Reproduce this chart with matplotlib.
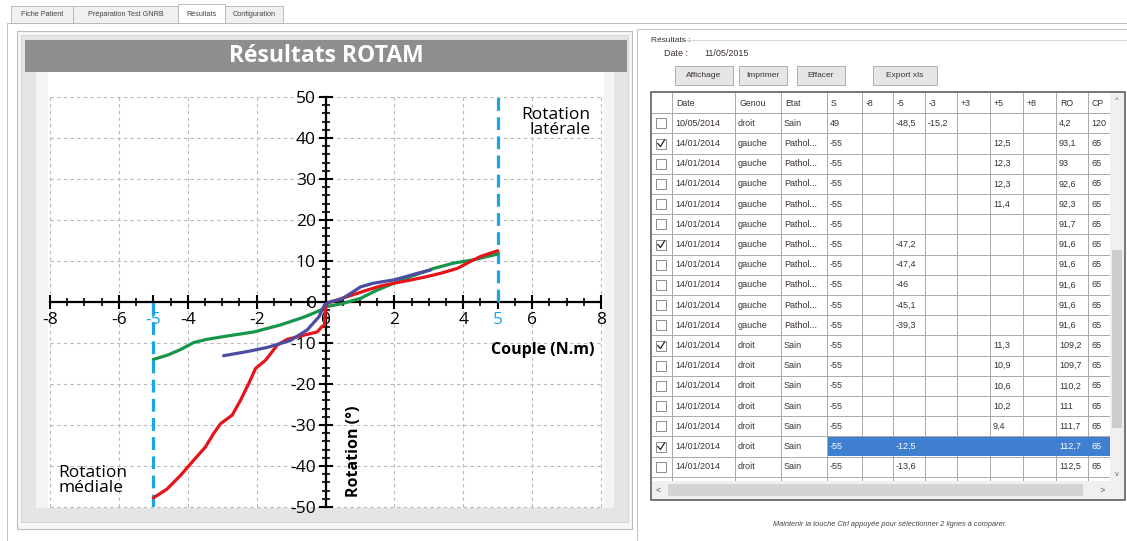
import matplotlib
matplotlib.use("Agg")
import matplotlib.pyplot as plt
from matplotlib.patches import Rectangle
from matplotlib.ticker import MultipleLocator

plt.rcParams['font.family'] = ['Open Sans', 'DejaVu Sans']
plt.rcParams['axes.unicode_minus'] = False

# --- courbes couple (N.m) / rotation (deg)
red_x = [-5.0, -4.6, -4.21, -3.83, -3.49, -3.25, -3.05, -2.71, -2.47, -2.23, -2.03, -1.74,
         -1.4, -1.11, -0.63, -0.24, -0.1, -0.03, 0.0, 0.05, 0.34, 0.63, 0.92, 1.21, 1.6,
         2.0, 2.5, 2.95, 3.34, 3.83, 4.12, 4.5, 5.0]
red_y = [-47.8, -45.6, -42.3, -38.6, -35.4, -32.1, -29.7, -27.6, -24.0, -19.9, -16.2, -14.2,
         -10.5, -9.1, -8.1, -7.3, -6.0, -5.6, -1.1, -0.3, 0.5, 1.3, 2.1, 2.9, 3.9,
         4.6, 5.4, 6.2, 7.0, 8.2, 9.5, 11.1, 12.5]
green_x = [-5.0, -4.6, -4.21, -3.83, -3.44, -2.86, -2.08, -1.31, -0.63, -0.2, 0.05, 0.53,
           1.02, 1.5, 1.99, 2.47, 3.15, 3.73, 4.31, 4.7, 5.0]
green_y = [-14.0, -13.0, -11.6, -9.9, -9.1, -8.3, -7.3, -5.6, -3.7, -2.2, -1.1, -0.3,
           0.9, 2.9, 4.6, 6.2, 8.2, 9.5, 10.3, 11.1, 11.7]
blue_x = [-2.96, -2.28, -1.7, -1.02, -0.53, -0.19, -0.03, 0.15, 0.44, 0.73, 1.02, 1.4,
          1.99, 2.3, 2.67, 3.05]
blue_y = [-13.1, -12.1, -11.1, -9.4, -6.8, -3.6, -0.7, 0.1, 0.6, 2.1, 3.7, 4.6,
          5.4, 6.1, 7.0, 7.8]
limit_torque = 5

x_ticks = [-8, -6, -4, -2, 0, 2, 4, 6, 8]
y_ticks = [-50, -40, -30, -20, -10, 0, 10, 20, 30, 40, 50]

# --- tableau des resultats
tab_labels = ["Fiche Patient", "Préparation Test GNRB", "Résultats", "Configuration"]
buttons = ["Affichage", "Imprimer", "Effacer", "Export xls"]
col_headers = ["Date", "Genou", "Etat", "S", "-8", "-5", "-3", "+3", "+5", "+8", "RO", "CP"]
row_dates = ["10/05/2014"] + ["14/01/2014"] * 17
row_genou = ["droit"] + ["gauche"] * 10 + ["droit"] * 7
row_etat = ["Sain"] + ["Pathol..."] * 10 + ["Sain"] * 7
row_s = ["49"] + ["-55"] * 17
row_m8 = [""] * 18
row_m5 = ["-48,5", "", "", "", "", "", "-47,2", "-47,4", "-46", "-45,1", "-39,3",
          "", "", "", "", "", "-12,5", "-13,6"]
row_m3 = ["-15,2"] + [""] * 17
row_p3 = [""] * 18
row_p5 = ["", "12,5", "12,3", "12,3", "11,4", "", "", "", "", "", "", "11,3", "10,9",
          "10,6", "10,2", "9,4", "", ""]
row_p8 = [""] * 18
row_ro = ["4,2", "93,1", "93", "92,6", "92,3", "91,7", "91,6", "91,6", "91,6", "91,6",
          "91,6", "109,2", "109,7", "110,2", "111", "111,7", "112,7", "112,5"]
row_cp = ["120"] + ["65"] * 17
row_checked = [False, True, False, False, False, False, True, False, False, False, False,
               True, False, False, False, False, True, False]
selected_row = 16

W, H = 1127, 541
fig = plt.figure(figsize=(W / 100, H / 100), dpi=100, facecolor="white")
bg = fig.add_axes([0, 0, 1, 1])
bg.set_xlim(0, W)
bg.set_ylim(H, 0)
bg.axis("off")


def box(x0, y0, x1, y1, fc="none", ec="none", lw=0.7, z=1):
    bg.add_patch(Rectangle((x0, y0), x1 - x0, y1 - y0, facecolor=fc, edgecolor=ec,
                           linewidth=lw, zorder=z))


ui_font = ["Liberation Sans", "DejaVu Sans"]
txt_col = "#3a3030"

# onglets
tab_x = [11, 73, 178, 225, 283]
for i, lab in enumerate(tab_labels):
    active = lab == "Résultats"
    box(tab_x[i], 4 if active else 6, tab_x[i + 1], 23, fc="white" if active else "#f0f0f0",
        ec="#b4b4b4", lw=0.6, z=2)
    bg.text((tab_x[i] + tab_x[i + 1]) / 2, 14, lab, fontsize=5.2, family=ui_font,
            color="#444", ha="center", va="center", zorder=3)
box(7, 23, W + 2, H + 2, fc="white", ec="#b4b4b4", lw=0.6, z=1)

# panneau graphique
box(17, 31, 632, 529, fc="#f6f6f6", ec="#bdbdbd", lw=0.8, z=1.5)
box(21, 35, 628, 522, fc="#e4e5e5", ec="#d0d0d0", lw=0.6, z=1.6)
box(36, 72, 614, 508, fc="#f3f4f4", ec="none", z=1.7)
box(48, 72, 604, 508, fc="white", ec="none", z=1.8)
box(25, 40, 627, 72, fc="#8d8e90", ec="none", z=2)
bg.text(326, 56, "Résultats ROTAM", color="white", fontsize=16.5, fontweight="bold",
        ha="center", va="center", zorder=3)

# panneau resultats
box(637, 29, W + 2, H + 2, fc="white", ec="#c4c4c4", lw=0.7, z=1.5)
bg.plot([682, W], [40, 40], color="#d4d4d4", lw=0.7, zorder=2)
bg.text(651, 40, "Résultats :", fontsize=6, family=ui_font, color=txt_col, va="center", zorder=3)
bg.text(664, 54, "Date :", fontsize=6.5, family=ui_font, color=txt_col, va="center", zorder=3)
bg.text(704, 54, "11/05/2015", fontsize=6.5, family=ui_font, color=txt_col, va="center", zorder=3)
btn_x = [(675, 733), (739, 787), (797, 845), (873, 937)]
for (b0, b1), lab in zip(btn_x, buttons):
    box(b0, 66, b1, 85, fc="#e6e6e6", ec="#adadad", lw=0.7, z=2)
    bg.text((b0 + b1) / 2, 75.5, lab, fontsize=6, family=ui_font, color=txt_col,
            ha="center", va="center", zorder=3)

# tableau
col_edges = [651, 672, 735, 781, 827, 862, 893, 925, 957, 990, 1023, 1056, 1088, 1110]
head_top, row_top, row_h = 93, 113.2, 20.2
table_cols = [row_dates, row_genou, row_etat, row_s, row_m8, row_m5, row_m3, row_p3,
              row_p5, row_p8, row_ro, row_cp]
n_rows = len(row_dates)
grid_col = "#a9a9a9"
box(651, 92, 1125, 500, fc="white", ec="#5f5f5f", lw=1.2, z=2)
for j, h in enumerate(col_headers):
    bg.text(col_edges[j + 1] + 4, 103, h, fontsize=6.3, family=ui_font, color=txt_col,
            va="center", zorder=4)
bg.plot([652, 1110], [row_top, row_top], color=grid_col, lw=0.7, zorder=3)
r_bot = 481
for r in range(n_rows + 1):
    y = row_top + r * row_h
    if y < r_bot:
        bg.plot([652, 1110], [y, y], color=grid_col, lw=0.7, zorder=3)
for x in col_edges[1:]:
    bg.plot([x, x], [head_top, r_bot], color=grid_col, lw=0.7, zorder=3)
for r in range(n_rows):
    y0 = row_top + r * row_h
    yc = y0 + row_h / 2
    if r == selected_row:
        box(col_edges[4] + 0.5, y0 + 0.5, 1110, y0 + row_h - 0.5, fc="#3f7fcf", ec="none", z=3.5)
    box(656, yc - 5, 666, yc + 5, fc="white", ec="#7a7a7a", lw=0.6, z=4)
    if row_checked[r]:
        bg.plot([657.8, 660.5, 664.5], [yc, yc + 3, yc - 3.5], color="#222", lw=0.9, zorder=5)
    for j, col in enumerate(table_cols):
        if col[r]:
            sel = r == selected_row and j >= 3
            bg.text(col_edges[j + 1] + 3, yc, col[r], fontsize=6.5, family=ui_font,
                    color="white" if sel else txt_col, va="center", zorder=5)
# barres de defilement
box(1110, 93, 1124, r_bot, fc="#f0f0f0", ec="none", z=3)
box(1112, 250, 1122, 428, fc="#cdcdcd", ec="none", z=3.5)
bg.text(1117, 100, "^", fontsize=6, family=ui_font, color="#666", ha="center", va="center", zorder=4)
bg.text(1117, 474, "v", fontsize=5.5, family=ui_font, color="#666", ha="center", va="center", zorder=4)
box(652, r_bot, 1124, 499, fc="#f0f0f0", ec="none", z=3)
box(668, 484, 1083, 496, fc="#d4d4d4", ec="none", z=3.5)
bg.text(658, 490, "<", fontsize=6.5, family=ui_font, color="#555", ha="center", va="center", zorder=4)
bg.text(1102, 490, ">", fontsize=6.5, family=ui_font, color="#555", ha="center", va="center", zorder=4)
bg.text(890, 525, "Maintenir la touche Ctrl appuyée pour sélectionner 2 lignes à comparer.",
        fontsize=5.3, family=ui_font, style="italic", color="#444", ha="center", va="center", zorder=3)

# --- graphique
blue = "#1ba6e2"
ax = fig.add_axes([50 / W, 1 - 507 / H, 551 / W, 410 / H])
ax.set_zorder(5)
ax.set_xlim(-8, 8)
ax.set_ylim(-50, 50)
ax.set_facecolor("white")
for s in ["top", "right"]:
    ax.spines[s].set_visible(False)
ax.spines["left"].set_position(("data", 0))
ax.spines["bottom"].set_position(("data", 0))
for s in ["left", "bottom"]:
    ax.spines[s].set_linewidth(1.6)
    ax.spines[s].set_zorder(2.5)

for gx in x_ticks:
    ax.axvline(gx, color="#b9b9b9", lw=0.8, ls=(0, (3, 3)), zorder=0.5, clip_on=False)
for gy in y_ticks:
    ax.axhline(gy, color="#b9b9b9", lw=0.8, ls=(0, (3, 3)), zorder=0.5, clip_on=False)

ax.set_xticks(x_ticks + [-limit_torque, limit_torque])
ax.set_xticklabels([str(v) for v in x_ticks] + [str(-limit_torque), str(limit_torque)])
ax.set_yticks(y_ticks)
ax.set_yticklabels([str(v) for v in y_ticks])
ax.xaxis.set_minor_locator(MultipleLocator(0.5))
ax.yaxis.set_minor_locator(MultipleLocator(2))
ax.tick_params(which="major", direction="inout", length=10, width=1.5, labelsize=12.5, pad=2)
ax.tick_params(which="minor", direction="inout", length=6, width=1.2)
for t in ax.xaxis.get_major_ticks():
    if abs(t.get_loc()) == limit_torque:
        t.label1.set_color(blue)
        t.tick1line.set_color(blue)

ax.plot([limit_torque, limit_torque], [0, 50], color=blue, lw=2.3, dashes=(4, 2), zorder=2.6)
ax.plot([-limit_torque, -limit_torque], [-50, 0], color=blue, lw=2.3, dashes=(4, 2), zorder=2.6)

ax.plot(green_x, green_y, color="#17954a", lw=2.3, zorder=3, solid_capstyle="round")
ax.plot(blue_x, blue_y, color="#4b4da3", lw=2.3, zorder=3.2, solid_capstyle="round")
ax.plot(red_x, red_y, color="#e5141b", lw=2.3, zorder=3.1, solid_capstyle="round")

ax.text(7.7, 43.8, "Rotation\nlatérale", fontsize=12.5, ha="right", va="center",
        multialignment="right", linespacing=0.95)
ax.text(-7.76, -43.5, "Rotation\nmédiale", fontsize=12.5, ha="left", va="center",
        linespacing=0.95)
ax.text(7.82, -11.7, "Couple (N.m)", fontsize=11.5, fontweight="bold", ha="right", va="center")
ax.text(0.84, -36.5, "Rotation (°)", fontsize=11.5, fontweight="bold", rotation=90,
        ha="center", va="center")

fig.savefig("out.png", dpi=100, facecolor="white")
